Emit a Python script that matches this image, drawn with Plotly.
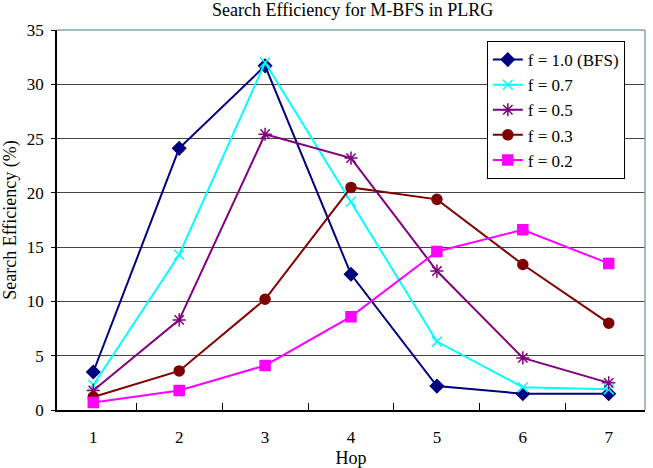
import plotly.graph_objects as go

hops = ["1", "2", "3", "4", "5", "6", "7"]
names = ["f = 1.0 (BFS)", "f = 0.7", "f = 0.5", "f = 0.3", "f = 0.2"]
f10 = [3.5, 24.1, 31.7, 12.5, 2.2, 1.5, 1.5]
f07 = [2.3, 14.3, 32.0, 19.2, 6.3, 2.1, 1.9]
f05 = [1.8, 8.3, 25.4, 23.2, 12.8, 4.8, 2.5]
f03 = [1.2, 3.6, 10.2, 20.5, 19.4, 13.4, 8.0]
f02 = [0.7, 1.8, 4.1, 8.6, 14.6, 16.6, 13.5]
yticks = [0, 5, 10, 15, 20, 25, 30, 35]

series = [f10, f07, f05, f03, f02]
colors = ["#000080", "#00FFFF", "#800080", "#800000", "#FF00FF"]
symbols = ["diamond", "x-thin-open", "asterisk-open", "circle", "square"]
sizes = [10, 10, 11, 10, 10]

fig = go.Figure()
for i, (nm, ys) in enumerate(zip(names, series)):
    fig.add_trace(go.Scatter(
        x=hops, y=ys, name=nm, mode="lines+markers", legendgroup=f"g{i}",
        line=dict(color=colors[i], width=2),
        marker=dict(symbol=symbols[i], size=sizes[i], color=colors[i],
                    line=dict(color=colors[i], width=1.5)),
    ))

font = "Liberation Serif, Times New Roman, serif"
fig.update_layout(
    width=653, height=468,
    margin=dict(l=57, r=8, t=30, b=58),
    paper_bgcolor="white", plot_bgcolor="white",
    font=dict(family=font, size=17, color="black"),
    title=dict(text="Search Efficiency for M-BFS in PLRG", x=0.54, xanchor="center",
               y=0.979, yanchor="middle", font=dict(family=font, size=18, color="black")),
    legend=dict(x=0.731, y=0.971, xanchor="left", yanchor="top",
                bordercolor="black", borderwidth=1, bgcolor="white",
                font=dict(family=font, size=17), traceorder="grouped",
                tracegroupgap=0),
    showlegend=True,
)
fig.update_xaxes(
    type="category", tickson="boundaries", ticks="inside", ticklen=7,
    tickcolor="black", showline=True, linecolor="black", linewidth=1.5,
    showgrid=False, ticklabelstandoff=11, tickfont=dict(size=17),
    title=dict(text="Hop", standoff=34, font=dict(size=18)),
    automargin=False,
)
fig.update_yaxes(
    range=[0, 35], tickvals=yticks, ticks="outside", ticklen=4, tickcolor="black",
    showline=True, linecolor="black", linewidth=1.5,
    showgrid=True, gridcolor="#444444", gridwidth=1, zeroline=False,
    ticklabelstandoff=4, tickfont=dict(size=17),
    title=dict(text="Search Efficiency (%)", standoff=6, font=dict(size=18)),
    automargin=False,
)
fig.add_shape(type="line", xref="paper", yref="paper", x0=0, x1=1, y0=1, y1=1,
              line=dict(color="#7fa8a8", width=1.5))
fig.add_shape(type="line", xref="paper", yref="paper", x0=1, x1=1, y0=0, y1=1,
              line=dict(color="#7fa8a8", width=1.5))

fig.write_html("out.html")
